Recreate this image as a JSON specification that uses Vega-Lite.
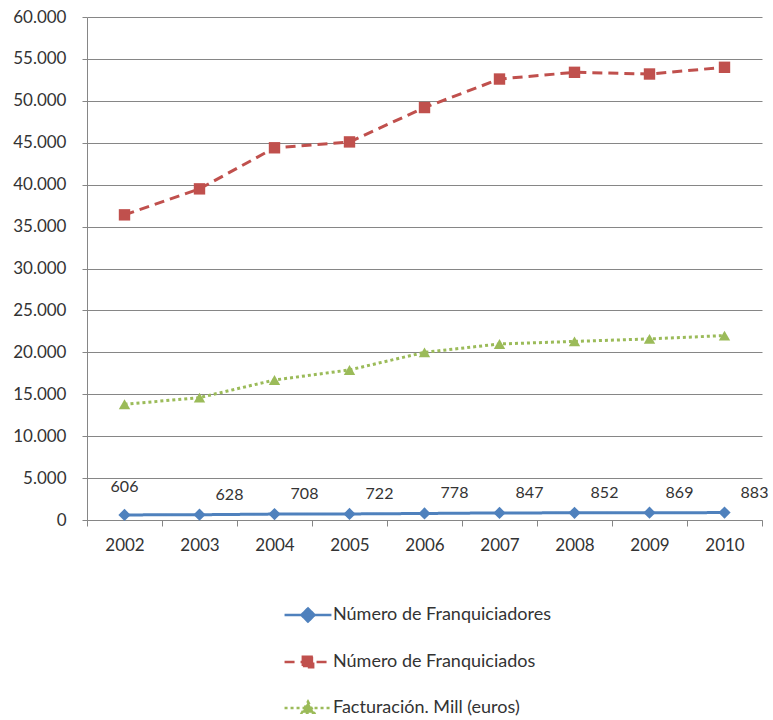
{
  "$schema": "https://vega.github.io/schema/vega-lite/v6.json",
  "width": 675,
  "height": 503,
  "autosize": {"type": "none"},
  "padding": {"left": 87, "top": 17, "right": 11, "bottom": 200},
  "background": "white",
  "config": {
    "font": "Lato",
    "view": {"stroke": null},
    "axis": {"labelFont": "Lato", "labelFontSize": 17, "labelColor": "#333333"}
  },
  "data": {
    "values": [
      {"year": "2002", "serie": "Número de Franquiciadores", "value": 606},
      {"year": "2003", "serie": "Número de Franquiciadores", "value": 628},
      {"year": "2004", "serie": "Número de Franquiciadores", "value": 708},
      {"year": "2005", "serie": "Número de Franquiciadores", "value": 722},
      {"year": "2006", "serie": "Número de Franquiciadores", "value": 778},
      {"year": "2007", "serie": "Número de Franquiciadores", "value": 847},
      {"year": "2008", "serie": "Número de Franquiciadores", "value": 852},
      {"year": "2009", "serie": "Número de Franquiciadores", "value": 869},
      {"year": "2010", "serie": "Número de Franquiciadores", "value": 883},
      {"year": "2002", "serie": "Número de Franquiciados", "value": 36400},
      {"year": "2003", "serie": "Número de Franquiciados", "value": 39500},
      {"year": "2004", "serie": "Número de Franquiciados", "value": 44400},
      {"year": "2005", "serie": "Número de Franquiciados", "value": 45100},
      {"year": "2006", "serie": "Número de Franquiciados", "value": 49200},
      {"year": "2007", "serie": "Número de Franquiciados", "value": 52600},
      {"year": "2008", "serie": "Número de Franquiciados", "value": 53400},
      {"year": "2009", "serie": "Número de Franquiciados", "value": 53200},
      {"year": "2010", "serie": "Número de Franquiciados", "value": 54000},
      {"year": "2002", "serie": "Facturación. Mill (euros)", "value": 13800},
      {"year": "2003", "serie": "Facturación. Mill (euros)", "value": 14600},
      {"year": "2004", "serie": "Facturación. Mill (euros)", "value": 16700},
      {"year": "2005", "serie": "Facturación. Mill (euros)", "value": 17900},
      {"year": "2006", "serie": "Facturación. Mill (euros)", "value": 20000},
      {"year": "2007", "serie": "Facturación. Mill (euros)", "value": 21000},
      {"year": "2008", "serie": "Facturación. Mill (euros)", "value": 21300},
      {"year": "2009", "serie": "Facturación. Mill (euros)", "value": 21600},
      {"year": "2010", "serie": "Facturación. Mill (euros)", "value": 22000}
    ]
  },
  "encoding": {
    "x": {
      "field": "year",
      "type": "ordinal",
      "scale": {"type": "band", "paddingInner": 0, "paddingOuter": 0},
      "axis": {
        "title": null,
        "labelAngle": 0,
        "tickBand": "extent",
        "tickSize": 6,
        "tickColor": "#868686",
        "domainColor": "#868686",
        "labelPadding": 11
      }
    },
    "y": {
      "field": "value",
      "type": "quantitative",
      "scale": {"domain": [0, 60000], "nice": false},
      "axis": {
        "title": null,
        "values": [0, 5000, 10000, 15000, 20000, 25000, 30000, 35000, 40000, 45000, 50000, 55000, 60000],
        "labelExpr": "replace(format(datum.value, ','), ',', '.')",
        "grid": true,
        "gridColor": "#868686",
        "gridWidth": 1,
        "tickSize": 5,
        "tickColor": "#868686",
        "domainColor": "#868686",
        "labelPadding": 16
      }
    }
  },
  "layer": [
    {
      "mark": {"type": "line", "strokeWidth": 3},
      "encoding": {
        "color": {
          "field": "serie",
          "type": "nominal",
          "scale": {
            "domain": ["Número de Franquiciadores", "Número de Franquiciados", "Facturación. Mill (euros)"],
            "range": ["#4F81BD", "#C0504D", "#9BBB59"]
          }
        },
        "strokeDash": {
          "field": "serie",
          "type": "nominal",
          "legend": null,
          "scale": {
            "domain": ["Número de Franquiciadores", "Número de Franquiciados", "Facturación. Mill (euros)"],
            "range": [[1, 0], [10, 6], [3, 3]]
          }
        }
      }
    },
    {
      "mark": {"type": "point", "filled": true, "size": 0},
      "encoding": {
        "color": {
          "field": "serie",
          "type": "nominal",
          "legend": {
            "title": null,
            "orient": "none",
            "legendX": 196,
            "legendY": 573,
            "direction": "vertical",
            "labelFont": "Lato",
            "labelFontSize": 18,
            "labelColor": "#333333",
            "labelOffset": 0,
            "symbolSize": 2200,
            "symbolStrokeWidth": 2.5,
            "symbolOpacity": 1,
            "rowPadding": 10,
            "labelLimit": 400,
            "encode": {
              "symbols": {
                "update": {
                  "strokeDash": {"signal": "datum.value === 'Número de Franquiciados' ? [9, 5] : datum.value === 'Facturación. Mill (euros)' ? [3, 3] : [1, 0]"},
                  "fill": {"scale": "color", "field": "value"},
                  "stroke": {"scale": "color", "field": "value"},
                  "opacity": {"value": 1},
                  "fillOpacity": {"value": 1},
                  "strokeOpacity": {"value": 1}
                }
              }
            }
          }
        },
        "shape": {
          "field": "serie",
          "type": "nominal",
          "scale": {
            "domain": ["Número de Franquiciadores", "Número de Franquiciados", "Facturación. Mill (euros)"],
            "range": [
              "M-1,0L1,0M0,-0.28L0.28,0L0,0.28L-0.28,0Z",
              "M-1,0L1,0M-0.22,-0.22L0.22,-0.22L0.22,0.22L-0.22,0.22Z",
              "M-1,0L1,0M0,-0.27L0.26,0.2L-0.26,0.2Z"
            ]
          },
          "legend": {
            "title": null,
            "orient": "none",
            "legendX": 196,
            "legendY": 573,
            "direction": "vertical",
            "labelFont": "Lato",
            "labelFontSize": 18,
            "labelColor": "#333333",
            "labelOffset": 0,
            "symbolSize": 2200,
            "symbolStrokeWidth": 2.5,
            "symbolOpacity": 1,
            "rowPadding": 10,
            "labelLimit": 400,
            "encode": {
              "symbols": {
                "update": {
                  "strokeDash": {"signal": "datum.value === 'Número de Franquiciados' ? [9, 5] : datum.value === 'Facturación. Mill (euros)' ? [3, 3] : [1, 0]"},
                  "fill": {"scale": "color", "field": "value"},
                  "stroke": {"scale": "color", "field": "value"},
                  "opacity": {"value": 1},
                  "fillOpacity": {"value": 1},
                  "strokeOpacity": {"value": 1}
                }
              }
            }
          }
        }
      }
    },
    {
      "transform": [{"filter": "datum.serie === 'Número de Franquiciadores'"}],
      "mark": {"type": "point", "filled": true, "opacity": 1, "shape": "diamond", "size": 150, "color": "#4F81BD"}
    },
    {
      "transform": [{"filter": "datum.serie === 'Número de Franquiciados'"}],
      "mark": {"type": "point", "filled": true, "opacity": 1, "shape": "square", "size": 130, "color": "#C0504D"}
    },
    {
      "transform": [{"filter": "datum.serie === 'Facturación. Mill (euros)'"}],
      "mark": {"type": "point", "filled": true, "opacity": 1, "shape": "triangle-up", "size": 130, "color": "#9BBB59"}
    },
    {
      "transform": [{"filter": "datum.serie === 'Número de Franquiciadores' && datum.year !== '2002'"}],
      "mark": {"type": "text", "dx": 30, "dy": -20, "fontSize": 16, "font": "Lato", "color": "#333333"},
      "encoding": {"text": {"field": "value", "type": "quantitative", "format": "d"}}
    },
    {
      "transform": [{"filter": "datum.serie === 'Número de Franquiciadores' && datum.year === '2002'"}],
      "mark": {"type": "text", "dx": 0, "dy": -28, "fontSize": 16, "font": "Lato", "color": "#333333"},
      "encoding": {"text": {"field": "value", "type": "quantitative", "format": "d"}}
    }
  ]
}
